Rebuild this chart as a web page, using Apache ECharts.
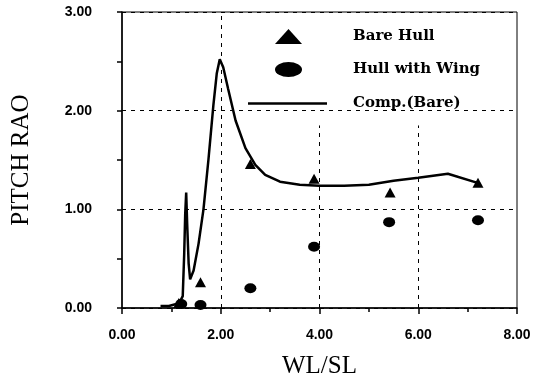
<!DOCTYPE html>
<html>
<head>
<meta charset="utf-8">
<script src="https://cdn.jsdelivr.net/npm/echarts@6/dist/echarts.min.js"></script>
<style>
  html, body { margin: 0; padding: 0; background: #fff; }
  #chart { width: 537px; height: 378px; }
</style>
</head>
<body>
<div id="chart"></div>
<script>
  const bareHullX = [1.15, 1.59, 2.60, 3.89, 5.43, 7.21]
  const bareHullY = [0.05, 0.26, 1.46, 1.31, 1.17, 1.27]

  const wingX = [1.20, 1.59, 2.60, 3.89, 5.41, 7.21]
  const wingY = [0.04, 0.03, 0.20, 0.62, 0.87, 0.89]

  const compX = [0.78, 0.95, 1.10, 1.20, 1.23, 1.26, 1.28, 1.30, 1.32, 1.35, 1.38, 1.45, 1.55, 1.65, 1.75, 1.85, 1.92, 1.98, 2.05, 2.15, 2.30, 2.50, 2.70, 2.90, 3.20, 3.60, 4.00, 4.50, 5.00, 5.50, 6.00, 6.60, 7.25]
  const compY = [0.02, 0.02, 0.04, 0.09, 0.12, 0.55, 0.95, 1.17, 0.85, 0.45, 0.29, 0.38, 0.65, 1.00, 1.50, 2.05, 2.38, 2.52, 2.44, 2.22, 1.90, 1.62, 1.45, 1.35, 1.28, 1.25, 1.24, 1.24, 1.25, 1.29, 1.32, 1.36, 1.26]

  const zip = (xs, ys) => xs.map((x, i) => [x, ys[i]])

  const myChart = echarts.init(document.getElementById('chart'))
  const serif = '"Liberation Serif", "Times New Roman", serif'
  const legendFont = '"DejaVu Serif", serif'
  const sans = '"Liberation Sans", Arial, sans-serif'

  // wide legend icons like the printed figure
  const triIcon = 'path://M13.5,0 L27,15 L0,15 Z'
  const ellipseIcon = 'path://M0,7.5 A13.5,7.5 0 1,1 27,7.5 A13.5,7.5 0 1,1 0,7.5 Z'

  let option = {
    backgroundColor: '#fff',
    animation: false,
    grid: {
      left: 122, right: 20, top: 12, bottom: 70,
      outerBoundsMode: 'none',
      show: true, borderColor: '#000', borderWidth: 1
    },
    legend: [
      {
        // markers
        orient: 'vertical',
        left: 275,
        top: 29,
        padding: 0,
        itemWidth: 27,
        itemHeight: 15,
        itemGap: 18,
        data: [
          { name: 'Bare Hull', icon: triIcon },
          { name: 'Hull with Wing', icon: ellipseIcon }
        ],
        textStyle: {
          fontFamily: legendFont, fontWeight: 'bold', fontSize: 15, color: '#000',
          padding: [0, 0, 0, 46]
        }
      },
      {
        // the line
        orient: 'vertical',
        left: 248,
        top: 96,
        padding: 0,
        itemWidth: 79,
        itemHeight: 2.5,
        icon: 'rect',
        data: ['Comp.(Bare)'],
        textStyle: {
          fontFamily: legendFont, fontWeight: 'bold', fontSize: 15, color: '#000',
          padding: [0, 0, 0, 21]
        }
      }
    ],
    xAxis: {
      type: 'value',
      min: 0, max: 8, interval: 2,
      name: 'WL/SL',
      nameLocation: 'middle',
      nameGap: 46,
      nameTextStyle: { fontFamily: serif, fontSize: 25, color: '#000' },
      axisLine: { lineStyle: { color: '#000', width: 1.5 } },
      axisTick: { length: 6, lineStyle: { color: '#000', width: 1.5 } },
      minorTick: { show: true, splitNumber: 2, length: 4, lineStyle: { color: '#000', width: 1.5 } },
      axisLabel: {
        margin: 20, color: '#000', fontFamily: sans, fontWeight: 'bold', fontSize: 14,
        formatter: v => v.toFixed(2)
      },
      splitLine: { show: false }
    },
    yAxis: {
      type: 'value',
      min: 0, max: 3, interval: 1,
      name: 'PITCH RAO',
      nameLocation: 'middle',
      nameGap: 88,
      nameTextStyle: { fontFamily: serif, fontSize: 25, color: '#000' },
      axisLine: { show: true, lineStyle: { color: '#000', width: 1.5 } },
      axisTick: { length: 5, lineStyle: { color: '#000', width: 1.5 } },
      minorTick: { show: true, splitNumber: 2, length: 5, lineStyle: { color: '#000', width: 1.5 } },
      axisLabel: {
        margin: 30, color: '#000', fontFamily: sans, fontWeight: 'bold', fontSize: 14,
        formatter: v => v.toFixed(2)
      },
      splitLine: { show: true, lineStyle: { color: '#000', type: [4, 5], width: 1 } }
    },
    series: [
      {
        name: 'Bare Hull',
        type: 'scatter',
        symbol: 'triangle',
        symbolSize: [11, 10],
        itemStyle: { color: '#000', opacity: 1 },
        data: zip(bareHullX, bareHullY)
      },
      {
        name: 'Hull with Wing',
        type: 'scatter',
        symbol: 'circle',
        symbolSize: [12, 10],
        itemStyle: { color: '#000', opacity: 1 },
        data: zip(wingX, wingY)
      },
      {
        name: 'Comp.(Bare)',
        type: 'line',
        symbol: 'none',
        lineStyle: { color: '#000', width: 2.5 },
        itemStyle: { color: '#000' },
        data: zip(compX, compY),
        markLine: {
          silent: true,
          symbol: 'none',
          label: { show: false },
          lineStyle: { color: '#000', type: [4, 5], width: 1 },
          data: [
            [{ coord: [2, 0] }, { coord: [2, 3] }],
            [{ coord: [4, 0] }, { coord: [4, 1.85] }],
            [{ coord: [6, 0] }, { coord: [6, 1.85] }]
          ]
        }
      }
    ]
  }

  option && myChart.setOption(option)
</script>
</body>
</html>
